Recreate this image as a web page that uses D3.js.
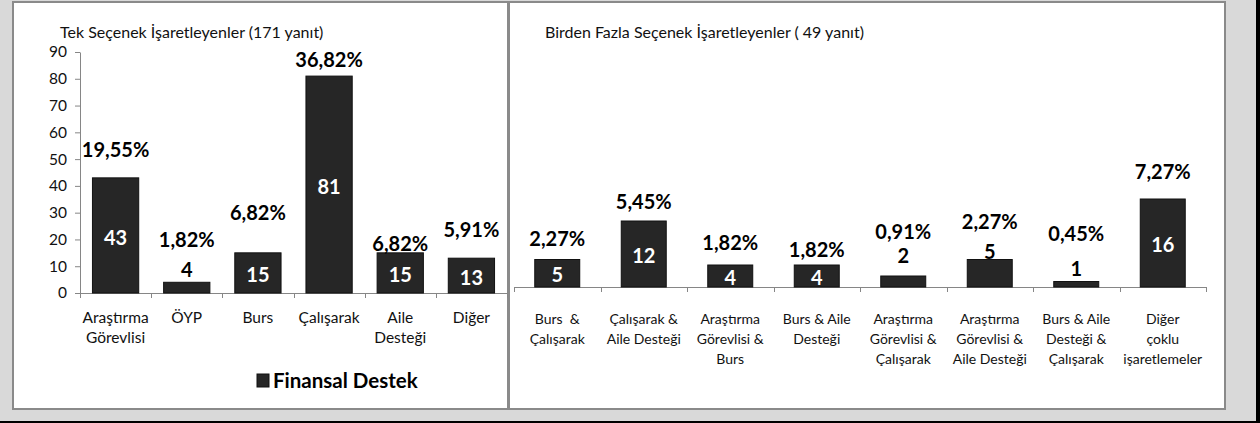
<!DOCTYPE html>
<html>
<head>
<meta charset="utf-8">
<script src="https://cdn.jsdelivr.net/npm/d3@7"></script>
<style>
  body { margin: 0; background: #d9d9d9; }
  svg { display: block; font-family: Lato, "Open Sans", sans-serif; }
  .cat text, text.cat { white-space: pre; }
</style>
</head>
<body>
<script>
// left chart: single choice
var singleCats = ["Araştırma\nGörevlisi", "ÖYP", "Burs", "Çalışarak", "Aile\nDesteği", "Diğer"];
var singleCounts = [43, 4, 15, 81, 15, 13];
var singlePct = [19.55, 1.82, 6.82, 36.82, 6.82, 5.91];
var singleTicks = [0, 10, 20, 30, 40, 50, 60, 70, 80, 90];

// right chart: multiple choice
var multiCats = ["Burs  &\nÇalışarak", "Çalışarak &\nAile Desteği", "Araştırma\nGörevlisi &\nBurs", "Burs & Aile\nDesteği",
                 "Araştırma\nGörevlisi &\nÇalışarak", "Araştırma\nGörevlisi &\nAile Desteği", "Burs & Aile\nDesteği &\nÇalışarak",
                 "Diğer\nçoklu\nişaretlemeler"];
var multiCounts = [5, 12, 4, 4, 2, 5, 1, 16];
var multiPct = [2.27, 5.45, 1.82, 1.82, 0.91, 2.27, 0.45, 7.27];

// label placement, px above the bar top (null = centred inside bar)
var singlePctLift = [28, 42, 40, 16, 9, 28];
var singleValLift = [null, 12, null, null, null, null];
var multiPctLift = [21, 19, 22, 15, 44, 38, 48, 27];
var multiValLift = [null, null, null, null, 20, 8, 13, null];

var W = 1260, H = 423;
var svg = d3.select("body").append("svg").attr("width", W).attr("height", H);

var loc = d3.formatLocale({decimal: ",", thousands: ".", grouping: [3], currency: ["", ""]});
var fmt = loc.format(".2f");

// frame
svg.append("rect").attr("x", 0).attr("y", 0).attr("width", W).attr("height", H).attr("fill", "#d9d9d9");
svg.append("rect").attr("x", 1256).attr("y", 0).attr("width", 4).attr("height", H).attr("fill", "#000");
svg.append("rect").attr("x", 0).attr("y", 421).attr("width", W).attr("height", 2).attr("fill", "#000");
svg.append("rect").attr("x", 13).attr("y", 2).attr("width", 1212).attr("height", 407)
   .attr("fill", "#fff").attr("stroke", "#8a8a8a").attr("stroke-width", 2);
svg.append("line").attr("x1", 508.5).attr("x2", 508.5).attr("y1", 2).attr("y2", 409)
   .attr("stroke", "#8a8a8a").attr("stroke-width", 3);

function drawChart(cfg) {
  var g = svg.append("g");
  var x = d3.scaleBand().domain(cfg.cats).range(cfg.xr).paddingInner(cfg.pad).paddingOuter(cfg.pad / 2);
  var y = d3.scaleLinear().domain(cfg.yd).range(cfg.yr);
  var base = y(0);

  if (cfg.ticks) {
    var ya = d3.axisLeft(y).tickValues(cfg.ticks).tickSize(5).tickSizeOuter(0).tickPadding(8);
    var yg = g.append("g").attr("transform", "translate(" + cfg.xr[0] + ",0)").call(ya);
    yg.select(".domain").attr("stroke", "#868686");
    yg.selectAll(".tick line").attr("stroke", "#868686");
    yg.selectAll(".tick text").attr("font-size", 15.5).attr("fill", "#111").attr("font-family", "Lato");
  }

  // x axis line + boundary ticks
  g.append("line").attr("x1", cfg.xr[0]).attr("x2", cfg.xr[1]).attr("y1", base + 0.5).attr("y2", base + 0.5)
   .attr("stroke", "#868686");
  g.selectAll(".bt").data(d3.range(cfg.cats.length + 1)).enter().append("line")
   .attr("x1", function(i){ return Math.round(cfg.xr[0] + i * x.step()) + 0.5; })
   .attr("x2", function(i){ return Math.round(cfg.xr[0] + i * x.step()) + 0.5; })
   .attr("y1", base).attr("y2", base + 5).attr("stroke", "#868686");

  g.selectAll(".bar").data(cfg.counts).enter().append("rect")
   .attr("x", function(d, i){ return x(cfg.cats[i]); })
   .attr("y", function(d){ return y(d); })
   .attr("width", x.bandwidth())
   .attr("height", function(d){ return base - y(d); })
   .attr("fill", "#262626").attr("stroke", "#111").attr("stroke-width", 1);

  // count labels
  g.selectAll(".val").data(cfg.counts).enter().append("text")
   .attr("x", function(d, i){ return x(cfg.cats[i]) + x.bandwidth() / 2; })
   .attr("y", function(d, i){
      var l = cfg.valLift[i];
      return l == null ? (y(d) + base) / 2 + 2 : y(d) - l;
   })
   .attr("dy", "0.36em").attr("text-anchor", "middle")
   .attr("font-weight", "bold").attr("font-size", 20)
   .attr("fill", function(d, i){ return cfg.valLift[i] == null ? "#fff" : "#000"; })
   .text(function(d){ return d; });

  // percent labels
  g.selectAll(".pct").data(cfg.pct).enter().append("text")
   .attr("x", function(d, i){ return x(cfg.cats[i]) + x.bandwidth() / 2; })
   .attr("y", function(d, i){ return y(cfg.counts[i]) - cfg.pctLift[i]; })
   .attr("dy", "0.36em").attr("text-anchor", "middle")
   .attr("font-weight", "bold").attr("font-size", 20).attr("fill", "#000")
   .text(function(d){ return fmt(d) + "%"; });

  // category labels
  var cl = g.selectAll(".cat").data(cfg.cats).enter().append("text").attr("class", "cat")
   .attr("text-anchor", "middle").attr("font-size", cfg.catSize).attr("fill", "#111");
  cl.selectAll("tspan").data(function(d, i){
      return d.split("\n").map(function(s){ return {s: s, c: x(d) + x.bandwidth() / 2}; });
    }).enter().append("tspan")
   .attr("x", function(t){ return t.c; })
   .attr("y", function(t, j){ return cfg.catY + j * 20; })
   .attr("dy", "0.36em")
   .text(function(t){ return t.s; });

  g.append("text").attr("x", cfg.titleX).attr("y", 32).attr("dy", "0.36em")
   .attr("font-size", 16).attr("fill", "#111").text(cfg.title);
}

drawChart({
  cats: singleCats, counts: singleCounts, pct: singlePct,
  pctLift: singlePctLift, valLift: singleValLift,
  xr: [80, 507], pad: 0.35, yd: [0, 90], yr: [293, 52], ticks: singleTicks,
  catY: 317, catSize: 15.5, titleX: 60,
  title: "Tek Seçenek İşaretleyenler (171 yanıt)"
});

drawChart({
  cats: multiCats, counts: multiCounts, pct: multiPct,
  pctLift: multiPctLift, valLift: multiValLift,
  xr: [514, 1206], pad: 0.48, yd: [0, 40], yr: [287, 67], ticks: null,
  catY: 319, catSize: 14, titleX: 545,
  title: "Birden Fazla Seçenek İşaretleyenler ( 49 yanıt)"
});

// legend
var lg = svg.append("g").attr("transform", "translate(257,374)");
lg.append("rect").attr("width", 12).attr("height", 13).attr("fill", "#262626").attr("stroke", "#111");
lg.append("text").attr("x", 16).attr("y", 6.5).attr("dy", "0.36em")
  .attr("font-size", 20.5).attr("font-weight", "bold").attr("fill", "#000").text("Finansal Destek");
</script>
</body>
</html>
